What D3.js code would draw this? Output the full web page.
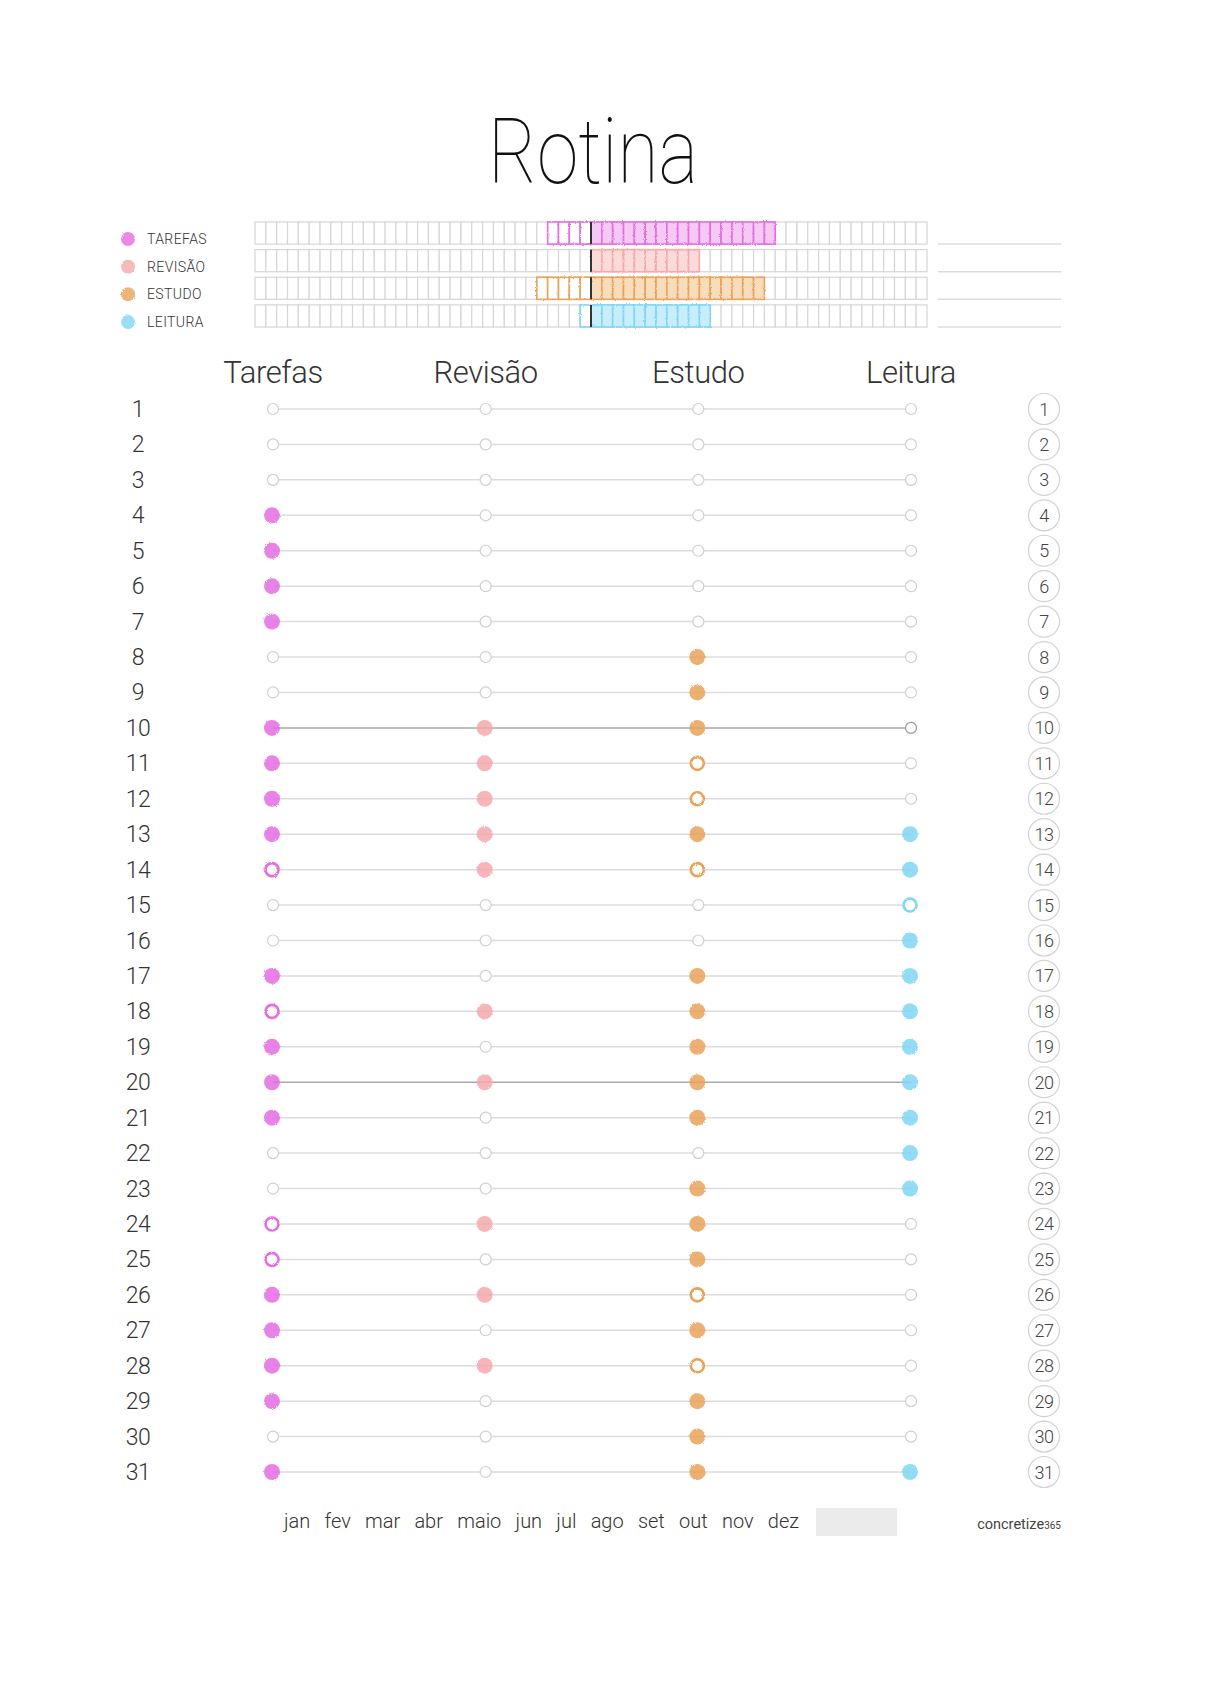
<!DOCTYPE html>
<html>
<head>
<meta charset="utf-8">
<script src="https://cdn.jsdelivr.net/npm/d3@7"></script>
<style>
  body { margin: 0; background: #fff; }
  svg { display: block; font-family: Roboto, "Noto Sans", sans-serif; }
</style>
</head>
<body>
<svg id="chart" width="1222" height="1682"></svg>
<script>
// atividades e cores
var activities = ["Tarefas", "Revisão", "Estudo", "Leitura"];
var legendLabels = ["TAREFAS", "REVISÃO", "ESTUDO", "LEITURA"];
var colors = ["#e46de2", "#f4a9ad", "#e8a35a", "#7fd6f5"];
var lightColors = ["#f6c8f4", "#fbdada", "#f8ddbd", "#c9eefb"];

var days = d3.range(1, 32);
// 0 = não feito, 1 = feito, 2 = parcial
var tarefas = [0,0,0,1,1,1,1,0,0,1, 1,1,1,2,0,0,1,2,1,1, 1,0,0,2,2,1,1,1,1,0, 1];
var revisao = [0,0,0,0,0,0,0,0,0,1, 1,1,1,1,0,0,0,1,0,1, 0,0,0,1,0,1,0,1,0,0, 0];
var estudo  = [0,0,0,0,0,0,0,1,1,1, 2,2,1,2,0,0,1,1,1,1, 1,0,1,1,1,2,1,2,1,1, 1];
var leitura = [0,0,0,0,0,0,0,0,0,0, 0,0,1,1,2,1,1,1,1,1, 1,1,1,0,0,0,0,0,0,0, 1];
var highlightDays = [10, 20];

var months = ["jan","fev","mar","abr","maio","jun","jul","ago","set","out","nov","dez"];

var marks = [tarefas, revisao, estudo, leitura];

var svg = d3.select("#chart");

// filtro de "lápis de cor"
var defs = svg.append("defs");
var f = defs.append("filter").attr("id", "crayon").attr("x", "-20%").attr("y", "-20%").attr("width", "140%").attr("height", "140%");
f.append("feTurbulence").attr("type", "fractalNoise").attr("baseFrequency", 0.9).attr("numOctaves", 2).attr("result", "noise");
f.append("feDisplacementMap").attr("in", "SourceGraphic").attr("in2", "noise").attr("scale", 2.5);

// titulo
svg.append("text")
  .attr("x", 593).attr("y", 183)
  .attr("text-anchor", "middle")
  .attr("font-size", 91).attr("font-weight", 100)
  .attr("fill", "#111")
  .attr("textLength", 210).attr("lengthAdjust", "spacingAndGlyphs")
  .text("Rotina");

// ---- resumo do mes (barras de quadradinhos) ----
var cellX = d3.scaleLinear().domain([-31, 31]).range([255, 927]);
var rowY = d3.scaleBand().domain(activities).range([222, 327]).paddingInner(0.2).paddingOuter(0);
var bw = rowY.bandwidth();
var cells = d3.range(-31, 31);

activities.forEach(function(act, i) {
  var done = marks[i].filter(function(s) { return s == 1; }).length;
  var part = marks[i].filter(function(s) { return s == 2; }).length;
  var g = svg.append("g");
  g.selectAll("rect.bg").data(cells).enter().append("rect")
    .attr("x", function(d) { return cellX(d); })
    .attr("y", rowY(act))
    .attr("width", cellX(1) - cellX(0))
    .attr("height", bw)
    .attr("fill", "#fff")
    .attr("stroke", "#d6d6d6").attr("stroke-width", 1.2);
  // feito -> direita
  g.append("g").attr("filter", "url(#crayon)")
    .selectAll("rect").data(d3.range(0, done)).enter().append("rect")
    .attr("x", function(d) { return cellX(d); })
    .attr("y", rowY(act))
    .attr("width", cellX(1) - cellX(0))
    .attr("height", bw)
    .attr("fill", lightColors[i])
    .attr("stroke", colors[i]).attr("stroke-width", 1.6);
  // parcial -> esquerda
  g.append("g").attr("filter", "url(#crayon)")
    .selectAll("rect").data(d3.range(-part, 0)).enter().append("rect")
    .attr("x", function(d) { return cellX(d); })
    .attr("y", rowY(act))
    .attr("width", cellX(1) - cellX(0))
    .attr("height", bw)
    .attr("fill", "#fff")
    .attr("stroke", colors[i]).attr("stroke-width", 1.6);
  g.append("line")
    .attr("x1", cellX(0)).attr("x2", cellX(0))
    .attr("y1", rowY(act)).attr("y2", rowY(act) + bw)
    .attr("stroke", "#333").attr("stroke-width", 2);
  // linha de anotacao
  svg.append("line")
    .attr("x1", 938).attr("x2", 1061)
    .attr("y1", rowY(act) + bw).attr("y2", rowY(act) + bw)
    .attr("stroke", "#dcdcdc").attr("stroke-width", 1.5);
  // legenda
  var ly = rowY(act) + bw / 2 + 6;
  svg.append("circle").attr("cx", 128).attr("cy", ly).attr("r", 7)
    .attr("fill", colors[i]).attr("opacity", 0.8).attr("filter", "url(#crayon)");
  svg.append("text").attr("x", 147).attr("y", ly + 5)
    .attr("font-size", 14).attr("font-weight", 300).attr("fill", "#333").attr("letter-spacing", 0.4)
    .text(legendLabels[i]);
});

// ---- grade diaria ----
var x = d3.scalePoint().domain(activities).range([273, 911]);
var y = d3.scaleLinear().domain([1, 31]).range([409, 1472]);

svg.selectAll("text.head").data(activities).enter().append("text")
  .attr("class", "head")
  .attr("x", function(d) { return x(d); }).attr("y", 383)
  .attr("text-anchor", "middle")
  .attr("font-size", 31).attr("font-weight", 300).attr("fill", "#333")
  .attr("letter-spacing", -0.4)
  .text(function(d) { return d; });

svg.selectAll("line.day").data(days).enter().append("line")
  .attr("x1", x(activities[0])).attr("x2", x(activities[3]))
  .attr("y1", function(d) { return y(d); }).attr("y2", function(d) { return y(d); })
  .attr("stroke", function(d) { return highlightDays.indexOf(d) >= 0 ? "#aaa" : "#dcdcdc"; })
  .attr("stroke-width", 1.5);

svg.selectAll("text.dayL").data(days).enter().append("text")
  .attr("x", 138).attr("y", function(d) { return y(d) + 8; })
  .attr("text-anchor", "middle")
  .attr("font-size", 23).attr("font-weight", 300).attr("fill", "#333")
  .attr("letter-spacing", -0.5)
  .text(function(d) { return d; });

svg.selectAll("circle.dayR").data(days).enter().append("circle")
  .attr("cx", 1044).attr("cy", function(d) { return y(d); }).attr("r", 15.5)
  .attr("fill", "none").attr("stroke", "#d2d2d2").attr("stroke-width", 1.2);
svg.selectAll("text.dayR").data(days).enter().append("text")
  .attr("x", 1044).attr("y", function(d) { return y(d) + 6.5; })
  .attr("text-anchor", "middle")
  .attr("font-size", 18).attr("font-weight", 300).attr("fill", "#444")
  .attr("letter-spacing", -0.4)
  .text(function(d) { return d; });

activities.forEach(function(act, i) {
  var pts = days.map(function(d, k) { return { day: d, s: marks[i][k] }; });
  var g = svg.append("g");
  g.selectAll("circle.empty").data(pts.filter(function(p) { return p.s == 0; })).enter().append("circle")
    .attr("cx", x(act)).attr("cy", function(p) { return y(p.day); }).attr("r", 5.5)
    .attr("fill", "#fff")
    .attr("stroke", function(p) { return highlightDays.indexOf(p.day) >= 0 ? "#999" : "#cfcfcf"; })
    .attr("stroke-width", 1.2);
  g.selectAll("circle.done").data(pts.filter(function(p) { return p.s == 1; })).enter().append("circle")
    .attr("cx", x(act) - 1).attr("cy", function(p) { return y(p.day); }).attr("r", 8)
    .attr("fill", colors[i]).attr("opacity", 0.85)
    .attr("filter", "url(#crayon)");
  g.selectAll("circle.part").data(pts.filter(function(p) { return p.s == 2; })).enter().append("circle")
    .attr("cx", x(act) - 1).attr("cy", function(p) { return y(p.day); }).attr("r", 6.5)
    .attr("fill", "#fff")
    .attr("stroke", colors[i]).attr("stroke-width", 2.6)
    .attr("filter", "url(#crayon)");
});

// ---- meses ----
var mg = svg.append("g");
var mt = mg.selectAll("text").data(months).enter().append("text")
  .attr("y", 1528)
  .attr("font-size", 20).attr("font-weight", 300).attr("fill", "#333")
  .text(function(d) { return d; });
var widths = [];
mt.each(function() { widths.push(this.getComputedTextLength()); });
var gap = (515 - d3.sum(widths)) / 11;
var cx = 284;
mt.attr("x", function(d, k) { var v = cx; cx += widths[k] + gap; return v; });

svg.append("rect").attr("x", 816).attr("y", 1508).attr("width", 81).attr("height", 28)
  .attr("fill", "#ebebeb");

var brand = svg.append("text").attr("x", 1061).attr("y", 1529)
  .attr("text-anchor", "end").attr("fill", "#444").attr("font-size", 14.5);
brand.append("tspan").text("concretize");
brand.append("tspan").attr("font-size", 10).text("365");
</script>
</body>
</html>
